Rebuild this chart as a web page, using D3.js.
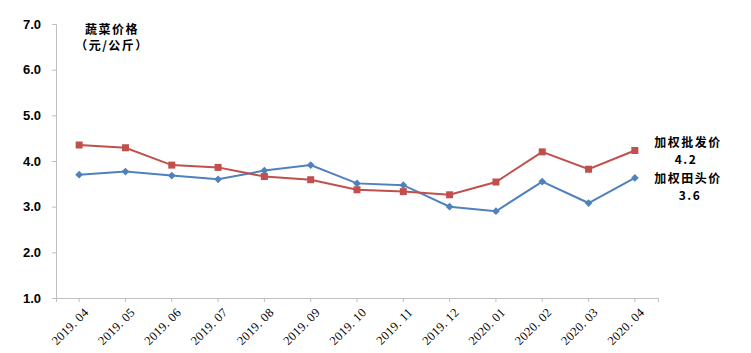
<!DOCTYPE html>
<html>
<head>
<meta charset="utf-8">
<script src="https://cdn.jsdelivr.net/npm/d3@7"></script>
<style>
  body { margin: 0; background: #fff; }
  svg { display: block; }
</style>
</head>
<body>
<div id="chart"></div>
<script>
var months = ["2019.04", "2019.05", "2019.06", "2019.07", "2019.08", "2019.09", "2019.10",
              "2019.11", "2019.12", "2020.01", "2020.02", "2020.03", "2020.04"];
var wholesale = [4.35, 4.29, 3.91, 3.86, 3.66, 3.59, 3.37, 3.33, 3.26, 3.54, 4.20, 3.82, 4.23];
var farmgate = [3.70, 3.77, 3.68, 3.60, 3.79, 3.91, 3.51, 3.47, 3.00, 2.90, 3.55, 3.08, 3.63];
var yTicks = [1, 2, 3, 4, 5, 6, 7];

var width = 751, height = 353;
var plotLeft = 56, plotRight = 658, plotTop = 24, plotBottom = 298;

var svg = d3.select("#chart").append("svg")
  .attr("width", width)
  .attr("height", height);

var x = d3.scaleBand()
  .domain(months)
  .range([plotLeft, plotRight]);

var y = d3.scaleLinear()
  .domain([1, 7])
  .range([plotBottom, plotTop]);

var axisColor = "#bfbfbf";
var cjk = "'Noto Sans CJK SC', sans-serif";

// y axis
var yAxis = svg.append("g")
  .attr("transform", "translate(" + plotLeft + ",0)")
  .call(d3.axisLeft(y).tickValues(yTicks).tickFormat(d3.format(".1f")).tickSize(4));
yAxis.select(".domain").attr("stroke", axisColor);
yAxis.selectAll(".tick line").attr("stroke", axisColor);
yAxis.selectAll("text")
  .attr("x", -15)
  .attr("fill", "#000")
  .style("font-family", "'Liberation Sans', Arial, sans-serif")
  .style("font-weight", "bold")
  .style("font-size", "13px");

// x axis, ticks at category centres
var xAxis = svg.append("g")
  .attr("transform", "translate(0," + plotBottom + ")")
  .call(d3.axisBottom(x).tickSize(4).tickSizeOuter(4).tickFormat(""));
xAxis.select(".domain").attr("stroke", axisColor);
xAxis.selectAll(".tick line").attr("stroke", axisColor);

svg.append("g").selectAll("text")
  .data(months)
  .join("text")
  .attr("transform", function(d) {
    return "translate(" + (x(d) + x.bandwidth() / 2 + 4) + "," + (plotBottom + 9) + ") rotate(-45)";
  })
  .attr("text-anchor", "end")
  .attr("dy", "0.7em")
  .style("font-family", "'Liberation Serif', serif")
  .style("font-size", "12.5px")
  .style("letter-spacing", "0.3px")
  .text(function(d) { return d.replace(".", ". "); });

var cx = function(d, i) { return x(months[i]) + x.bandwidth() / 2; };

var line = d3.line()
  .x(function(d, i) { return x(months[i]) + x.bandwidth() / 2; })
  .y(function(d) { return y(d); });

// farmgate (blue)
svg.append("path")
  .datum(farmgate)
  .attr("fill", "none")
  .attr("stroke", "#4f81bd")
  .attr("stroke-width", 2)
  .attr("d", line);

svg.append("g").selectAll("path")
  .data(farmgate)
  .join("path")
  .attr("d", d3.symbol(d3.symbolSquare, 30)())
  .attr("transform", function(d, i) { return "translate(" + cx(d, i) + "," + y(d) + ") rotate(45)"; })
  .attr("fill", "#4f81bd");

// wholesale (red)
svg.append("path")
  .datum(wholesale)
  .attr("fill", "none")
  .attr("stroke", "#c0504d")
  .attr("stroke-width", 2)
  .attr("d", line);

svg.append("g").selectAll("rect")
  .data(wholesale)
  .join("rect")
  .attr("x", function(d, i) { return cx(d, i) - 3.5; })
  .attr("y", function(d) { return y(d) - 3.5; })
  .attr("width", 7)
  .attr("height", 7)
  .attr("fill", "#c0504d");

// titles and labels
var labels = [
  { t: "蔬菜价格", x: 112, y: 34 },
  { t: "（元/公斤）", x: 112, y: 50 },
  { t: "加权批发价", x: 688, y: 147 },
  { t: "4.2", x: 686, y: 164 },
  { t: "加权田头价", x: 688, y: 183 },
  { t: "3.6", x: 690, y: 200 }
];
svg.append("g").selectAll("text")
  .data(labels)
  .join("text")
  .attr("x", function(d) { return d.x; })
  .attr("y", function(d) { return d.y; })
  .attr("text-anchor", "middle")
  .style("font-family", cjk)
  .style("font-weight", "bold")
  .style("font-size", "12px")
  .style("letter-spacing", "1.5px")
  .text(function(d) { return d.t; });
</script>
</body>
</html>
